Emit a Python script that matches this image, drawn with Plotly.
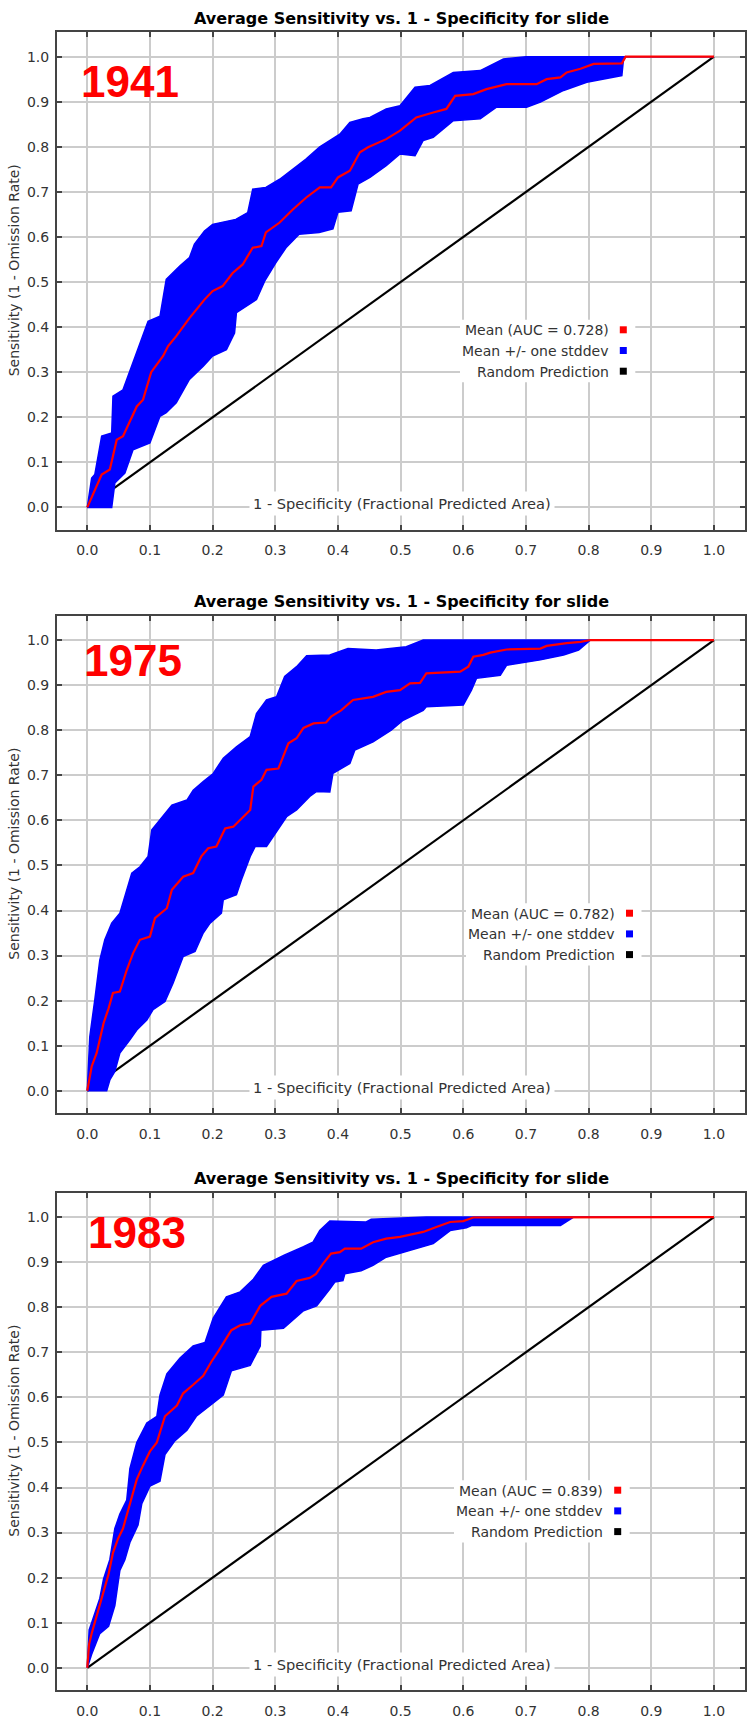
import plotly.graph_objects as go

# ---------------- data ----------------
years = ["1941", "1975", "1983"]
auc_values = ["0.728", "0.782", "0.839"]

mean_x_1941 = [0, 0.023, 0.036, 0.047, 0.057, 0.079, 0.089, 0.102, 0.121, 0.129, 0.142, 0.163, 0.187, 0.200,
               0.216, 0.232, 0.248, 0.264, 0.278, 0.285, 0.307, 0.328, 0.349, 0.371, 0.389, 0.400, 0.419, 0.435,
               0.448, 0.477, 0.499, 0.525, 0.552, 0.573, 0.587, 0.616, 0.637, 0.669, 0.717, 0.733, 0.755, 0.765,
               0.787, 0.808, 0.853, 0.859, 1.0]
mean_y_1941 = [0, 0.073, 0.084, 0.150, 0.158, 0.224, 0.239, 0.300, 0.336, 0.358, 0.380, 0.420, 0.461, 0.480,
               0.491, 0.520, 0.539, 0.576, 0.580, 0.610, 0.632, 0.661, 0.687, 0.710, 0.710, 0.732, 0.747, 0.788,
               0.799, 0.817, 0.836, 0.865, 0.876, 0.884, 0.913, 0.917, 0.928, 0.939, 0.939, 0.950, 0.954, 0.965,
               0.973, 0.984, 0.985, 1.0, 1.0]
upper_x_1941 = [0, 0.007, 0.012, 0.023, 0.039, 0.041, 0.057, 0.073, 0.097, 0.116, 0.126, 0.148, 0.163, 0.171,
                0.187, 0.200, 0.237, 0.256, 0.264, 0.285, 0.307, 0.349, 0.371, 0.403, 0.419, 0.440, 0.451, 0.477,
                0.499, 0.523, 0.547, 0.584, 0.627, 0.664, 0.691, 0.700, 1.0]
upper_y_1941 = [0, 0.065, 0.073, 0.158, 0.165, 0.247, 0.261, 0.321, 0.413, 0.424, 0.506, 0.536, 0.554, 0.584,
                0.613, 0.628, 0.639, 0.654, 0.706, 0.710, 0.728, 0.773, 0.800, 0.828, 0.854, 0.862, 0.865, 0.884,
                0.891, 0.932, 0.936, 0.965, 0.969, 0.995, 0.999, 1.0, 1.0]
lower_x_1941 = [0, 0.039, 0.044, 0.060, 0.073, 0.100, 0.116, 0.126, 0.142, 0.163, 0.185, 0.200, 0.222, 0.235,
                0.238, 0.270, 0.283, 0.301, 0.317, 0.338, 0.370, 0.392, 0.400, 0.421, 0.432, 0.451, 0.477, 0.499,
                0.523, 0.536, 0.552, 0.584, 0.627, 0.653, 0.701, 0.723, 0.760, 0.797, 0.853, 0.856, 1.0]
lower_y_1941 = [0, 0, 0.054, 0.076, 0.128, 0.143, 0.202, 0.210, 0.232, 0.284, 0.313, 0.336, 0.350, 0.387,
                0.432, 0.461, 0.502, 0.543, 0.576, 0.606, 0.610, 0.618, 0.655, 0.658, 0.717, 0.732, 0.758, 0.784,
                0.780, 0.814, 0.821, 0.858, 0.862, 0.888, 0.888, 0.899, 0.925, 0.943, 0.958, 1.0, 1.0]

mean_x_1975 = [0, 0.007, 0.015, 0.026, 0.034, 0.041, 0.052, 0.063, 0.073, 0.084, 0.100, 0.108, 0.127, 0.135,
               0.153, 0.169, 0.182, 0.193, 0.206, 0.220, 0.233, 0.260, 0.265, 0.278, 0.286, 0.305, 0.321, 0.334,
               0.345, 0.361, 0.381, 0.389, 0.405, 0.424, 0.456, 0.477, 0.499, 0.515, 0.531, 0.541, 0.595, 0.608,
               0.616, 0.632, 0.643, 0.669, 0.723, 0.733, 0.765, 0.787, 0.803, 1.0]
mean_y_1975 = [0, 0.054, 0.084, 0.150, 0.183, 0.217, 0.220, 0.268, 0.305, 0.335, 0.342, 0.383, 0.405, 0.446,
               0.475, 0.483, 0.520, 0.538, 0.542, 0.582, 0.586, 0.623, 0.675, 0.690, 0.712, 0.715, 0.771, 0.782,
               0.805, 0.815, 0.817, 0.830, 0.844, 0.867, 0.874, 0.885, 0.889, 0.904, 0.905, 0.926, 0.930, 0.941,
               0.963, 0.967, 0.972, 0.979, 0.981, 0.987, 0.993, 0.996, 1.0, 1.0]
upper_x_1975 = [0, 0.004, 0.012, 0.020, 0.028, 0.039, 0.052, 0.060, 0.071, 0.084, 0.097, 0.103, 0.116, 0.135,
                0.159, 0.169, 0.185, 0.201, 0.217, 0.238, 0.260, 0.270, 0.286, 0.302, 0.315, 0.334, 0.350, 0.387,
                0.416, 0.461, 0.509, 0.536, 1.0]
upper_y_1975 = [0, 0.120, 0.202, 0.290, 0.335, 0.372, 0.394, 0.431, 0.483, 0.497, 0.520, 0.579, 0.601, 0.634,
                0.645, 0.667, 0.686, 0.704, 0.738, 0.763, 0.786, 0.837, 0.867, 0.874, 0.919, 0.941, 0.965, 0.967,
                0.981, 0.978, 0.985, 1.0, 1.0]
lower_x_1975 = [0, 0.031, 0.036, 0.044, 0.052, 0.068, 0.079, 0.095, 0.105, 0.124, 0.137, 0.153, 0.172, 0.185,
                0.196, 0.214, 0.217, 0.238, 0.246, 0.260, 0.268, 0.286, 0.318, 0.334, 0.355, 0.366, 0.387, 0.392,
                0.419, 0.427, 0.456, 0.485, 0.504, 0.536, 0.541, 0.600, 0.613, 0.621, 0.659, 0.669, 0.723, 0.760,
                0.784, 0.803, 1.0]
lower_y_1975 = [0, 0, 0.024, 0.043, 0.084, 0.113, 0.135, 0.157, 0.180, 0.198, 0.239, 0.298, 0.309, 0.350,
                0.372, 0.394, 0.424, 0.435, 0.468, 0.520, 0.542, 0.542, 0.608, 0.623, 0.653, 0.664, 0.663, 0.704,
                0.726, 0.756, 0.774, 0.800, 0.822, 0.844, 0.852, 0.856, 0.889, 0.915, 0.922, 0.944, 0.956, 0.967,
                0.978, 1.0, 1.0]

mean_x_1983 = [0, 0.003, 0.007, 0.015, 0.026, 0.034, 0.041, 0.049, 0.057, 0.068, 0.079, 0.089, 0.100, 0.111,
               0.124, 0.143, 0.153, 0.169, 0.185, 0.198, 0.209, 0.230, 0.244, 0.260, 0.276, 0.294, 0.318, 0.334,
               0.355, 0.365, 0.376, 0.389, 0.403, 0.411, 0.437, 0.456, 0.477, 0.499, 0.536, 0.557, 0.579, 0.600,
               0.616, 1.0]
mean_y_1983 = [0, 0.053, 0.076, 0.115, 0.170, 0.208, 0.255, 0.286, 0.309, 0.364, 0.418, 0.449, 0.480, 0.500,
               0.558, 0.582, 0.609, 0.628, 0.648, 0.679, 0.702, 0.749, 0.760, 0.764, 0.803, 0.823, 0.830, 0.858,
               0.865, 0.874, 0.896, 0.919, 0.922, 0.930, 0.930, 0.944, 0.952, 0.956, 0.967, 0.978, 0.989, 0.991,
               0.999, 1.0]
upper_x_1983 = [0, 0.003, 0.007, 0.020, 0.026, 0.036, 0.044, 0.052, 0.063, 0.068, 0.079, 0.095, 0.111, 0.116,
                0.127, 0.148, 0.169, 0.188, 0.201, 0.222, 0.244, 0.265, 0.281, 0.315, 0.345, 0.360, 0.371, 0.387,
                0.445, 0.453, 0.541, 1.0]
upper_y_1983 = [0, 0.084, 0.100, 0.154, 0.197, 0.240, 0.309, 0.341, 0.372, 0.442, 0.500, 0.543, 0.558, 0.605,
                0.652, 0.687, 0.714, 0.722, 0.776, 0.823, 0.834, 0.862, 0.893, 0.916, 0.934, 0.944, 0.970, 0.991,
                0.989, 0.995, 1.0, 1.0]
lower_x_1983 = [0, 0.007, 0.020, 0.034, 0.044, 0.052, 0.060, 0.068, 0.081, 0.087, 0.100, 0.116, 0.124, 0.140,
                0.159, 0.174, 0.196, 0.217, 0.230, 0.260, 0.276, 0.277, 0.313, 0.345, 0.366, 0.387, 0.395, 0.408,
                0.411, 0.437, 0.456, 0.477, 0.515, 0.552, 0.579, 0.605, 0.613, 0.755, 0.776, 1.0]
lower_y_1983 = [0, 0.030, 0.076, 0.092, 0.138, 0.216, 0.240, 0.278, 0.317, 0.364, 0.403, 0.414, 0.473, 0.504,
                0.527, 0.558, 0.582, 0.605, 0.659, 0.671, 0.714, 0.749, 0.753, 0.792, 0.803, 0.840, 0.856, 0.859,
                0.874, 0.881, 0.893, 0.911, 0.926, 0.941, 0.970, 0.976, 0.981, 0.981, 1.0, 1.0]

random_x = [0, 1]
random_y = [0, 1]

tick_vals = [0, 0.1, 0.2, 0.3, 0.4, 0.5, 0.6, 0.7, 0.8, 0.9, 1.0]
tick_text = ["0.0", "0.1", "0.2", "0.3", "0.4", "0.5", "0.6", "0.7", "0.8", "0.9", "1.0"]

title_text = "Average Sensitivity vs. 1 - Specificity for slide"
xlab = "1 - Specificity (Fractional Predicted Area)"
ylab = "Sensitivity (1 - Omission Rate)"
legend_labels = ["Mean (AUC = {})", "Mean +/- one stddev", "Random Prediction"]

panels = [
    (mean_x_1941, mean_y_1941, upper_x_1941, upper_y_1941, lower_x_1941, lower_y_1941),
    (mean_x_1975, mean_y_1975, upper_x_1975, upper_y_1975, lower_x_1975, lower_y_1975),
    (mean_x_1983, mean_y_1983, upper_x_1983, upper_y_1983, lower_x_1983, lower_y_1983),
]

# ---------------- layout geometry (pixels) ----------------
W, H = 749, 1720
ML, MR = 57, 4
PW = W - ML - MR
frame_top = [32.3, 615.7, 1192.7]
frame_h = 497.2
legend_text_right = [611, 617, 605]
legend_marker_cx = [623.3, 629.5, 617.7]
year_left = [79, 82, 86]
year_cy = [81.0, 660.0, 1232.7]

XR = [-0.0483, 1.0495]
YR = [-0.049, 1.054]

FONT = "DejaVu Sans, Verdana, sans-serif"
TXT = "#333333"


def pxx(xp):
    return (xp - ML) / PW


def pyy(yp):
    return (H - yp) / H


fig = go.Figure()
layout = dict(
    width=W, height=H, paper_bgcolor="white", plot_bgcolor="white",
    margin=dict(l=ML, r=MR, t=0, b=0, autoexpand=False),
    showlegend=False, annotations=[], shapes=[],
)

for i, (mx, my, ux, uy, lx, ly) in enumerate(panels):
    sfx = "" if i == 0 else str(i + 1)
    xa, ya = "x" + sfx, "y" + sfx
    # random prediction
    fig.add_trace(go.Scatter(x=random_x, y=random_y, mode="lines", xaxis=xa, yaxis=ya,
                             line=dict(color="black", width=2.2), hoverinfo="skip"))
    # +/- stddev band
    fig.add_trace(go.Scatter(x=ux + lx[::-1], y=uy + ly[::-1], mode="lines", fill="toself",
                             fillcolor="#0000ff", xaxis=xa, yaxis=ya,
                             line=dict(color="#0000ff", width=1.5), hoverinfo="skip"))
    # mean
    fig.add_trace(go.Scatter(x=mx, y=my, mode="lines", xaxis=xa, yaxis=ya,
                             line=dict(color="#ff0000", width=2.2), hoverinfo="skip"))

    top = frame_top[i]
    bot = top + frame_h
    axis_common = dict(
        showline=True, linecolor="#444444", linewidth=2, mirror="ticks",
        ticks="inside", ticklen=5, tickwidth=1.5, tickcolor="#444444",
        showgrid=True, gridcolor="#cccccc", gridwidth=1.5, zeroline=False,
        tickvals=tick_vals, ticktext=tick_text,
        tickfont=dict(family=FONT, size=14, color=TXT), automargin=False,
    )
    layout["xaxis" + sfx] = dict(axis_common, domain=[0, 1], range=XR, anchor=ya,
                                 ticklabelstandoff=7)
    layout["yaxis" + sfx] = dict(axis_common, domain=[pyy(bot), pyy(top)], range=YR, anchor=xa,
                                 ticklabelstandoff=3)

    ann = layout["annotations"]
    # title
    ann.append(dict(text="<b>" + title_text + "</b>", xref="paper", yref="paper",
                    x=pxx(401), y=pyy(top - 2.5), xanchor="center", yanchor="bottom",
                    showarrow=False, font=dict(family=FONT, size=16, color="black")))
    # year label
    ann.append(dict(text="<b>" + years[i] + "</b>", xref="paper", yref="paper",
                    x=pxx(year_left[i]), y=pyy(year_cy[i]), xanchor="left", yanchor="middle",
                    showarrow=False,
                    font=dict(family="Liberation Sans, Arial, sans-serif", size=44, color="#ff0000")))
    # y title
    ann.append(dict(text=ylab, xref="paper", yref="paper", x=pxx(14), y=pyy(top + 238),
                    xanchor="center", yanchor="middle", textangle=-90, showarrow=False,
                    font=dict(family=FONT, size=14, color=TXT)))
    # x title (inside plot, white background)
    ann.append(dict(text=xlab, xref=xa, yref=ya, x=0.502, y=0.008,
                    xanchor="center", yanchor="middle", showarrow=False, bgcolor="white",
                    borderpad=3, font=dict(family=FONT, size=14.6, color=TXT)))
    # legend
    rows_y = [top + 298.0 + 20.7 * k for k in range(3)]
    colors = ["#ff0000", "#0000ff", "#000000"]
    layout["shapes"].append(dict(type="rect", xref="paper", yref="paper",
                                 x0=pxx(legend_text_right[i] - 151), x1=pxx(legend_marker_cx[i] + 12),
                                 y0=pyy(rows_y[0] - 10.5), y1=pyy(rows_y[2] + 10.5),
                                 fillcolor="white", line=dict(width=0), layer="above"))
    for k in range(3):
        label = legend_labels[k].format(auc_values[i]) if k == 0 else legend_labels[k]
        ann.append(dict(text=label, xref="paper", yref="paper", x=pxx(legend_text_right[i]),
                        y=pyy(rows_y[k]), xanchor="right", yanchor="middle", showarrow=False,
                        font=dict(family=FONT, size=14, color=TXT)))
        cx = legend_marker_cx[i]
        layout["shapes"].append(dict(type="rect", xref="paper", yref="paper",
                                     x0=pxx(cx - 3.5), x1=pxx(cx + 3.5),
                                     y0=pyy(rows_y[k] - 4), y1=pyy(rows_y[k] + 3),
                                     fillcolor=colors[k], line=dict(width=0), layer="above"))

fig.update_layout(**layout)
fig.write_html("out.html", config={"displayModeBar": False},
               post_script="document.body.style.margin='0px';document.body.style.padding='0px';")
